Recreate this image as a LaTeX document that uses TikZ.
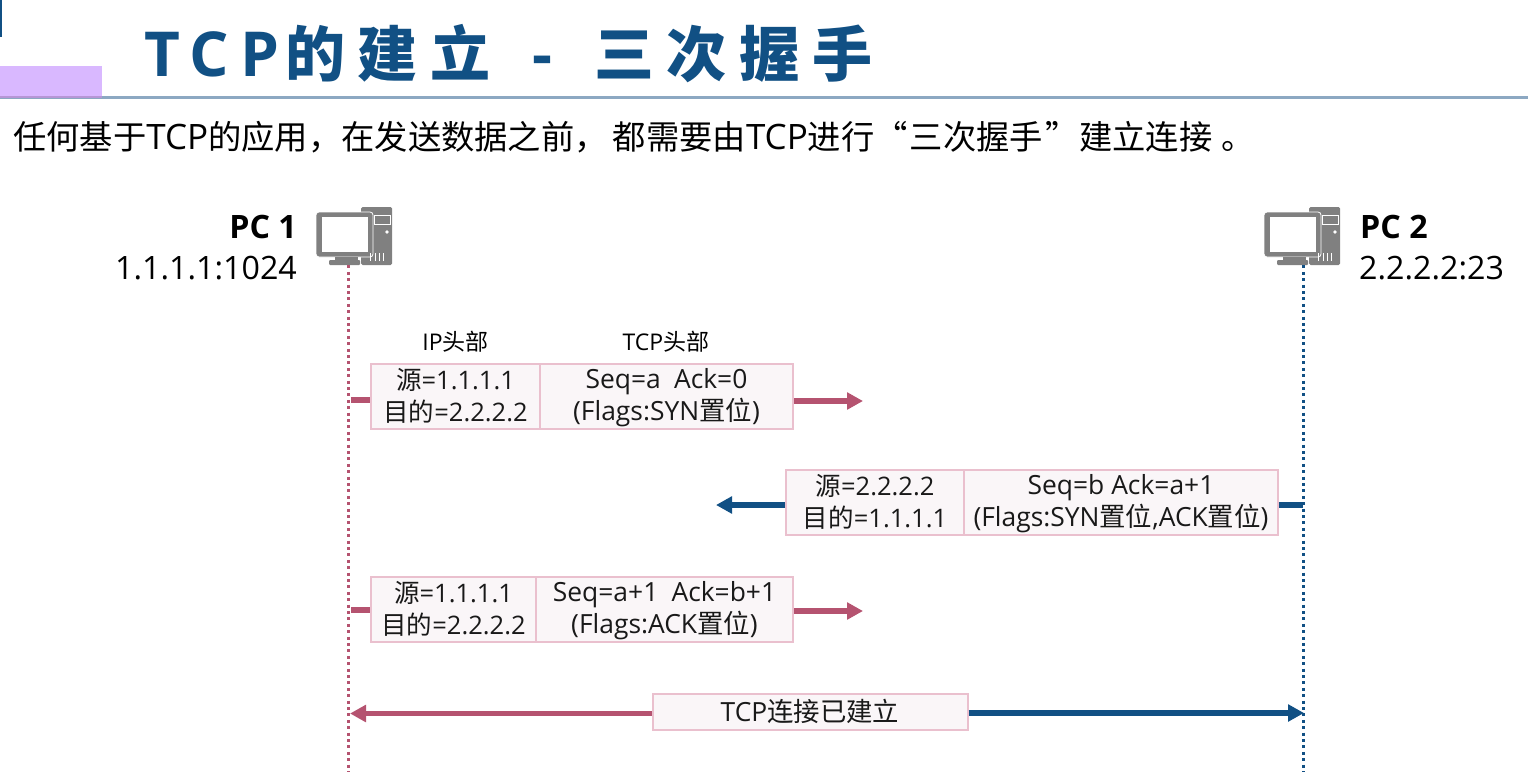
\documentclass[tikz,border=0pt]{standalone}
\usepackage{fontspec}
\setmainfont{Open Sans}
\newfontfamily\cjk{Noto Sans CJK SC}
\newfontfamily\titlefont[LetterSpace=18]{Open Sans}
\newfontfamily\titlecjk[LetterSpace=21]{Noto Sans CJK SC}
\newcommand{\zh}[1]{{\cjk #1}}
\newcommand{\st}{\vphantom{(\zh{源})}}
\usetikzlibrary{arrows.meta}
\definecolor{rosec}{RGB}{181,83,112}
\definecolor{bluec}{RGB}{17,80,132}
\definecolor{boxline}{RGB}{234,192,206}
\definecolor{boxfill}{RGB}{250,246,248}
\definecolor{pcgray}{RGB}{128,128,128}
\definecolor{rulec}{RGB}{140,168,194}
\definecolor{lilac}{RGB}{217,184,255}
\definecolor{lilacrule}{RGB}{182,150,214}
\tikzset{
  x=1pt,y=-1pt,
  pkt/.style={draw=boxline,line width=2pt,fill=boxfill,inner sep=0pt,align=center,anchor=north west,text=black!90},
  leftcell/.style={pkt,font=\fontsize{25.5}{32}\selectfont},
  rightcell/.style={pkt,font=\fontsize{26.4}{32}\selectfont},
  captext/.style={inner sep=0pt,font=\fontsize{23}{27}\selectfont,text=black},
  rosearrow/.style={draw=rosec,line width=5.5pt,-{Triangle[length=16pt,width=16.5pt]}},
  bluearrow/.style={draw=bluec,line width=5.5pt,-{Triangle[length=16pt,width=16.5pt]}},
  rosestub/.style={draw=rosec,line width=5.5pt},
  bluestub/.style={draw=bluec,line width=5.5pt},
  life/.style={line width=3pt,dash pattern=on 3pt off 3.4pt},
  pclabel/.style={inner sep=0pt,align=left,font=\fontsize{32.2}{41}\selectfont,text=black}
}
\newcommand{\pcicon}[3]{%
\begin{scope}[shift={(#1,#2)}]
  \fill[pcgray,rounded corners=1.5pt] (44,0) rectangle (75,58);
  \fill[pcgray,rounded corners=3pt,draw=white,line width=.8pt] (-1,5) rectangle (56,50);
  \fill[white] (5,10) rectangle (51,45);
  \fill[pcgray] (18,50) rectangle (41,54);
  \fill[pcgray,rounded corners=1pt] (12,53) rectangle (43,58);
  \draw[white,line width=.9pt] (57,8) rectangle (73,17);
  \fill[white] (70,25) circle (1.9);
  \draw[white,line width=.9pt] (53,54) -- (53,46) (58,54) -- (58,46) (62,54) -- (62,46) (66,54) -- (66,46);
\end{scope}
\node[inner sep=0pt,minimum width=75pt,minimum height=58pt,anchor=north west] (#3) at (#1,#2) {};}
\begin{document}
\begin{tikzpicture}
\useasboundingbox (0,0) rectangle (1528,776);
% header
\fill[bluec] (0,0) rectangle (1.5,37);
\fill[rulec] (0,96) rectangle (1528,98.5);
\fill[lilac] (0,66) rectangle (102,96);
\fill[lilacrule] (0,96) rectangle (102,98);
\node[inner sep=0pt,anchor=base west,text=bluec] (title) at (144,76)
 {\bfseries{\fontsize{62}{62}\selectfont\titlefont\bfseries TCP}\hspace{5.5pt}{\fontsize{60}{60}\selectfont\titlecjk\bfseries 的建立}\hspace{42pt}{\fontsize{62}{62}\selectfont\titlefont\bfseries -}\hspace{42pt}{\fontsize{60}{60}\selectfont\titlecjk\bfseries 三次握手}};
\node[inner sep=0pt,anchor=base west,text=black] (intro) at (13,149)
 {\newcommand{\lat}[1]{{\fontsize{35}{35}\selectfont #1}}\fontsize{33.3}{33.3}\selectfont\zh{任何基于}\lat{TCP}\zh{的应用，在发送数据之前，\hspace{5pt}都需要由}\lat{TCP}\zh{进行“\hspace{2pt}三次握手\hspace{3pt}”建立连接\hspace{9pt}。}};
% PCs
\pcicon{317}{207}{pca}
\pcicon{1265}{207}{pcb}
\node[pclabel,anchor=base east,align=right] (la) at (297,238) {\bfseries PC 1};
\node[pclabel,anchor=base east] (lb) at (297,279) {1.1.1.1:1024};
\node[pclabel,anchor=base west] (lc) at (1360,238) {\bfseries PC 2};
\node[pclabel,anchor=base west] (ld) at (1359,279) {2.2.2.2:23};
% lifelines
\coordinate (enda) at (348,772);
\coordinate (endb) at (1303,772);
\draw[life,rosec] (enda|-pca.south) -- (enda);
\draw[life,bluec] (endb|-pcb.south) -- (endb);
% captions
\node[captext] (c1) at (455.5,342) {IP\zh{头部}};
\node[captext] (c2) at (666,342) {TCP\zh{头部}};
% packet 1
\node[leftcell,minimum width=169pt,minimum height=65pt] (p1a) at (370,363) {\st\zh{源}=1.1.1.1\\\st\zh{目的}=2.2.2.2};
\node[rightcell,minimum width=253pt,minimum height=65pt] (p1b) at (539,363) {\st Seq=a\hspace{.5em}Ack=0\\\st(Flags:SYN\zh{置位})};
\coordinate (s1) at (351,400);
\coordinate (t1) at (863,401);
\draw[rosestub] (s1) -- (s1-|p1a.west);
\draw[rosearrow] (p1b.east|-t1) -- (t1);
% packet 2
\node[leftcell,minimum width=178pt,minimum height=65pt] (p2a) at (785,469) {\st\zh{源}=2.2.2.2\\\st\zh{目的}=1.1.1.1};
\node[rightcell,minimum width=314pt,minimum height=65pt] (p2b) at (963,469) {\st Seq=b Ack=a+1\\\st(Flags:SYN\zh{置位},ACK\zh{置位})};
\coordinate (s2) at (1303,505);
\coordinate (t2) at (716,505);
\draw[bluestub] (p2b.east|-s2) -- (s2);
\draw[bluearrow] (p2a.west|-t2) -- (t2);
% packet 3
\node[leftcell,minimum width=165pt,minimum height=65pt] (p3a) at (370,576) {\st\zh{源}=1.1.1.1\\\st\zh{目的}=2.2.2.2};
\node[rightcell,minimum width=257pt,minimum height=65pt] (p3b) at (535,576) {\st Seq=a+1\hspace{.5em}Ack=b+1\\\st(Flags:ACK\zh{置位})};
\coordinate (s3) at (351,610);
\coordinate (t3) at (863,611);
\draw[rosestub] (s3) -- (s3-|p3a.west);
\draw[rosearrow] (p3b.east|-t3) -- (t3);
% established
\node[rightcell,minimum width=315pt,minimum height=36pt] (est) at (651.5,692.5) {TCP\zh{连接已建立}};
\coordinate (ea) at (350,713.5);
\coordinate (eb) at (1304,713);
\draw[rosearrow] (est.west|-ea) -- (ea);
\draw[bluearrow] (est.east|-eb) -- (eb);
\end{tikzpicture}
\end{document}
